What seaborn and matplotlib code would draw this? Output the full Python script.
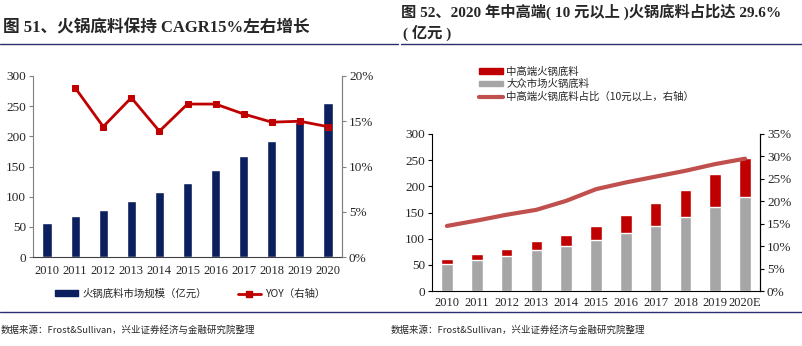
import numpy as np
import pandas as pd
import matplotlib
matplotlib.use('Agg')
from matplotlib import pyplot as plt
from matplotlib.lines import Line2D
from matplotlib.patches import Patch
from matplotlib.ticker import PercentFormatter
import seaborn as sns

# data
years = ['2010', '2011', '2012', '2013', '2014', '2015', '2016', '2017', '2018', '2019', '2020']
years_right = ['2010', '2011', '2012', '2013', '2014', '2015', '2016', '2017', '2018', '2019', '2020E']
market_size = [57, 68.5, 78, 93.5, 107, 123, 145, 167, 192, 224, 255]
yoy = [18.7, 14.4, 17.6, 13.9, 16.9, 16.9, 15.8, 14.9, 15.0, 14.4]  # from 2011
total_size = [61, 70.5, 80, 95.5, 107, 124, 145, 168, 193, 224, 254]
mass_size = [51.5, 59, 67, 78, 86, 97.5, 111, 124, 141, 160.5, 180]
premium_share = [14.5, 15.7, 17.0, 18.1, 20.1, 22.7, 24.2, 25.5, 26.8, 28.3, 29.5]

NAVY = '#0c1f5e'
RED = '#c00000'
GRAY = '#a6a6a6'
SHARE = '#c0504d'
LINE = '#2e2e6e'

sns.set_style('white')
plt.rcParams['font.family'] = ['Liberation Serif', 'Noto Sans CJK SC', 'DejaVu Sans']
plt.rcParams['axes.linewidth'] = 0.8
cjk = ['Noto Sans CJK SC', 'DejaVu Sans']

fig = plt.figure(figsize=(8.02, 3.46), dpi=100)
W, H = 802, 346


def px_axes(x0, y0, x1, y1):
    return fig.add_axes([x0 / W, 1 - y1 / H, (x1 - x0) / W, (y1 - y0) / H])


def style_axis(ax, spine_color):
    ax.spines['top'].set_visible(False)
    for s in ['left', 'right', 'bottom']:
        ax.spines[s].set_color(spine_color)
    ax.tick_params(axis='y', which='major', direction='out', length=3,
                   color=spine_color, labelsize=9.5, pad=2)


pos = np.arange(len(years))

# ---------------- left chart ----------------
df_left = pd.DataFrame({'year': years, 'size': market_size})
axL = px_axes(33, 76, 342, 257)
sns.barplot(data=df_left, x='year', y='size', order=years, color=NAVY,
            width=0.33, saturation=1, ax=axL)
axL.set_ylim(0, 300)
axL.set_yticks(range(0, 301, 50))
axL.set_xlim(-0.5, len(years) - 0.5)
axL.set_xlabel('')
axL.set_ylabel('')
style_axis(axL, '#808080')
axL.spines['bottom'].set_color('#404040')
axL.tick_params(axis='x', which='major', length=0, labelsize=9, pad=6)
axL.set_xticks(pos - 0.5, minor=True)
axL.tick_params(axis='x', which='minor', direction='out', length=3, color='#404040')

axL2 = axL.twinx()
sns.lineplot(x=pos[1:], y=yoy, color=RED, lw=2, marker='s', markersize=5,
             markeredgecolor=RED, ax=axL2)
axL2.set_ylim(0, 20)
axL2.set_yticks(range(0, 21, 5))
axL2.yaxis.set_major_formatter(PercentFormatter(decimals=0))
style_axis(axL2, '#808080')
axL2.spines['left'].set_visible(False)
axL2.spines['bottom'].set_visible(False)

fig.legend(handles=[Patch(color=NAVY, label='火锅底料市场规模（亿元）'),
                    Line2D([], [], color=RED, lw=2, marker='s', markersize=4,
                           label='YOY（右轴）')],
           loc='center', bbox_to_anchor=(190 / W, 1 - 294 / H), ncol=2,
           frameon=False, prop={'family': cjk, 'size': 7.5},
           handlelength=2.2, handleheight=0.5, columnspacing=3, handletextpad=0.4)

# ---------------- right chart ----------------
df_right = pd.DataFrame({'year': years_right, 'total': total_size, 'mass': mass_size})
axR = px_axes(432, 134, 760, 291)
sns.barplot(data=df_right, x='year', y='total', order=years_right, color=RED,
            width=0.39, saturation=1, ax=axR)
sns.barplot(data=df_right, x='year', y='mass', order=years_right, color=GRAY,
            width=0.39, saturation=1, ax=axR)
axR.set_ylim(0, 300)
axR.set_yticks(range(0, 301, 50))
axR.set_xlim(-0.5, len(years_right) - 0.5)
axR.set_xlabel('')
axR.set_ylabel('')
style_axis(axR, 'black')
axR.tick_params(axis='x', which='major', length=0, labelsize=9, pad=4)

axR2 = axR.twinx()
sns.lineplot(x=pos, y=premium_share, color=SHARE, lw=3, ax=axR2)
axR2.set_ylim(0, 35)
axR2.set_yticks(range(0, 36, 5))
axR2.yaxis.set_major_formatter(PercentFormatter(decimals=0))
style_axis(axR2, 'black')
axR2.spines['left'].set_visible(False)
axR2.spines['bottom'].set_visible(False)

fig.legend(handles=[Patch(color=RED, label='中高端火锅底料'),
                    Patch(color=GRAY, label='大众市场火锅底料'),
                    Line2D([], [], color=SHARE, lw=3, label='中高端火锅底料占比（10元以上，右轴）')],
           loc='upper left', bbox_to_anchor=(474 / W, 1 - 61 / H), ncol=1,
           frameon=False, prop={'family': cjk, 'size': 7.5}, labelspacing=0.25,
           handlelength=2.3, handleheight=0.45, handletextpad=0.3, borderpad=0)

# ---------------- titles, rules, sources ----------------
fig.text(3 / W, 1 - 28 / H, '图 51、火锅底料保持 CAGR15%左右增长', fontsize=12,
         fontweight='bold', va='center', ha='left')
fig.text(401 / W, 1 - 12 / H, '图 52、2020 年中高端( 10 元以上 )火锅底料占比达 29.6%',
         fontsize=11, fontweight='bold', va='center', ha='left')
fig.text(403 / W, 1 - 33 / H, '( 亿元 )', fontsize=11, fontweight='bold',
         va='center', ha='left')

fig.add_artist(Line2D([0, 398 / W], [1 - 44 / H] * 2, color=LINE, lw=1))
fig.add_artist(Line2D([401 / W, 1], [1 - 44 / H] * 2, color=LINE, lw=1))
fig.add_artist(Line2D([0, 1], [1 - 312 / H] * 2, color=LINE, lw=1))

src = '数据来源：Frost&Sullivan，兴业证券经济与金融研究院整理'
fig.text(1 / W, 1 - 330 / H, src, fontsize=6.8, family=cjk, va='center', ha='left')
fig.text(391 / W, 1 - 330 / H, src, fontsize=6.8, family=cjk, va='center', ha='left')

fig.savefig('out.png', dpi=100)
